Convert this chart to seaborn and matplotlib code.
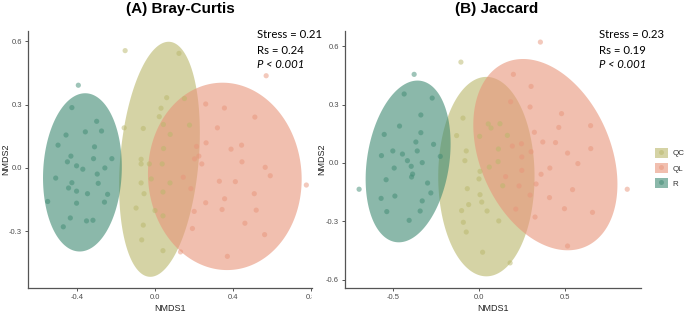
import numpy as np
import pandas as pd
import matplotlib
matplotlib.use("Agg")
import matplotlib.pyplot as plt
import seaborn as sns
from matplotlib.patches import Rectangle, Patch
from matplotlib.lines import Line2D
from matplotlib.legend_handler import HandlerTuple

# ---------------- data ----------------
groups = ["QC", "QL", "R"]
palette = {"QC": "#B9B76A", "QL": "#E8957A", "R": "#3E8A72"}

# Panel A: Bray-Curtis
bc_R_x = [-0.393, -0.426, -0.456, -0.497, -0.357, -0.299, -0.274, -0.310, -0.431, -0.449,
          -0.402, -0.370, -0.315, -0.257, -0.221, -0.296, -0.509, -0.426, -0.291, -0.443,
          -0.402, -0.346, -0.243, -0.550, -0.402, -0.259, -0.434, -0.351, -0.318, -0.470]
bc_R_y = [0.392, 0.286, 0.156, 0.108, 0.171, 0.221, 0.175, 0.100, 0.056, 0.029,
          0.010, -0.006, 0.044, 0.000, 0.044, -0.029, -0.048, -0.070, -0.073, -0.095,
          -0.110, -0.122, -0.125, -0.159, -0.167, -0.162, -0.237, -0.251, -0.248, -0.279]
bc_QC_x = [-0.153, 0.123, 0.060, 0.151, 0.031, 0.022, 0.043, -0.158, -0.060, 0.078,
           0.044, -0.071, -0.071, -0.029, 0.037, -0.071, -0.019, -0.056, 0.041, 0.077,
           -0.097, 0.000, 0.041, -0.060, -0.068, 0.041, 0.177]
bc_QC_y = [0.556, 0.543, 0.333, 0.329, 0.283, 0.243, 0.206, 0.190, 0.187, 0.159,
           0.092, 0.041, 0.019, 0.019, 0.019, -0.071, -0.052, -0.122, -0.114, -0.071,
           -0.190, -0.202, -0.227, -0.271, -0.341, -0.392, 0.203]
bc_QL_x = [0.570, 0.260, 0.356, 0.512, 0.320, 0.262, 0.444, 0.390, 0.213, 0.225,
           0.203, 0.240, 0.446, 0.565, 0.591, 0.776, 0.330, 0.412, 0.145, 0.184,
           0.509, 0.357, 0.260, 0.519, 0.344, 0.201, 0.461, 0.192, 0.562, 0.371, 0.131]
bc_QL_y = [0.437, 0.303, 0.284, 0.241, 0.190, 0.119, 0.108, 0.089, 0.102, 0.056,
           0.043, 0.019, 0.029, 0.003, -0.037, -0.081, -0.063, -0.065, -0.044, -0.098,
           -0.122, -0.146, -0.165, -0.200, -0.197, -0.206, -0.262, -0.287, -0.316, -0.419, -0.398]

# Panel B: Jaccard
ja_R_x = [-0.377, -0.435, -0.272, -0.338, -0.462, -0.551, -0.338, -0.367, -0.264, -0.359,
          -0.501, -0.445, -0.567, -0.225, -0.416, -0.330, -0.394, -0.493, -0.386, -0.392,
          -0.540, -0.299, -0.697, -0.280, -0.489, -0.569, -0.330, -0.536, -0.342, -0.406]
ja_R_y = [0.456, 0.355, 0.334, 0.247, 0.190, 0.147, 0.156, 0.108, 0.096, 0.062,
          0.062, 0.046, 0.038, 0.034, 0.012, 0.002, -0.017, -0.026, -0.057, -0.072,
          -0.086, -0.103, -0.135, -0.154, -0.170, -0.182, -0.195, -0.250, -0.247, -0.295]
ja_QC_x = [-0.105, -0.093, -0.130, 0.054, 0.070, 0.004, -0.074, -0.082, 0.113, 0.111,
           0.060, 0.006, 0.000, -0.068, 0.006, 0.016, -0.060, -0.101, 0.047, -0.091,
           -0.074, 0.115, 0.021, 0.181, 0.122, 0.165, 0.138]
ja_QC_y = [0.519, 0.231, 0.141, 0.201, 0.180, 0.137, 0.062, 0.012, 0.072, 0.007,
           -0.021, -0.043, -0.082, -0.132, -0.163, -0.201, -0.214, -0.245, -0.247, -0.305,
           -0.355, -0.298, -0.459, -0.514, 0.202, 0.142, -0.117]
ja_QL_x = [0.357, 0.200, 0.303, 0.184, 0.297, 0.480, 0.464, 0.649, 0.322, 0.371,
           0.445, 0.194, 0.247, 0.303, 0.249, 0.515, 0.575, 0.650, 0.412, 0.361,
           0.249, 0.155, 0.233, 0.332, 0.544, 0.862, 0.297, 0.410, 0.214, 0.326,
           0.497, 0.660, 0.515]
ja_QL_y = [0.622, 0.456, 0.394, 0.315, 0.288, 0.254, 0.183, 0.192, 0.158, 0.108,
           0.105, 0.087, 0.099, 0.058, 0.031, 0.051, -0.003, 0.074, -0.026, -0.058,
           -0.038, -0.070, -0.118, -0.108, -0.137, -0.135, -0.165, -0.178, -0.237, -0.278,
           -0.235, -0.254, -0.427]

# Ellipse summaries (center x, center y, half-width, half-height, correlation) per group
bc_ell_cx = [0.023, 0.358, -0.372]
bc_ell_cy = [0.041, -0.040, -0.021]
bc_ell_hw = [0.207, 0.394, 0.202]
bc_ell_hh = [0.557, 0.444, 0.375]
bc_ell_r = [0.227, -0.03, 0.07]

ja_ell_cx = [0.043, 0.386, -0.412]
ja_ell_cy = [-0.070, 0.043, 0.008]
ja_ell_hw = [0.280, 0.419, 0.247]
ja_ell_hh = [0.513, 0.492, 0.416]
ja_ell_r = [0.0, -0.31, 0.22]

titles = ["(A) Bray-Curtis", "(B) Jaccard"]
stats_A = ["Stress = 0.21", "Rs = 0.24", "P < 0.001"]
stats_B = ["Stress = 0.23", "Rs = 0.19", "P < 0.001"]
xticks_A = [-0.4, 0.0, 0.4, 0.8]
yticks_A = [-0.3, 0.0, 0.3, 0.6]
xticks_B = [-0.5, 0.0, 0.5]
yticks_B = [-0.6, -0.3, 0.0, 0.3, 0.6]


def make_df(d):
    rows = []
    for g in groups:
        xs, ys = d[g]
        for x, y in zip(xs, ys):
            rows.append({"NMDS1": x, "NMDS2": y, "group": g})
    return pd.DataFrame(rows)


dfA = make_df({"QC": (bc_QC_x, bc_QC_y), "QL": (bc_QL_x, bc_QL_y), "R": (bc_R_x, bc_R_y)})
dfB = make_df({"QC": (ja_QC_x, ja_QC_y), "QL": (ja_QL_x, ja_QL_y), "R": (ja_R_x, ja_R_y)})

# ---------------- style ----------------
sns.set_theme(style="white")
plt.rcParams['font.family'] = ['Liberation Sans', 'DejaVu Sans']

W, H = 685, 315
fig = plt.figure(figsize=(W / 100, H / 100), dpi=100)
axA = fig.add_axes([28 / W, (H - 288) / H, 284 / W, 257 / H])
axB = fig.add_axes([345 / W, (H - 288) / H, 296 / W, 257 / H])

axis_col = "#555555"
tick_col = "#555555"


def draw_ellipses(ax, cxs, cys, hws, hhs, rs):
    t = np.linspace(0, 2 * np.pi, 300)
    for i, g in enumerate(groups):
        M = np.array([[hws[i] ** 2, rs[i] * hws[i] * hhs[i]],
                      [rs[i] * hws[i] * hhs[i], hhs[i] ** 2]])
        L = np.linalg.cholesky(M)
        pts = L @ np.vstack([np.cos(t), np.sin(t)])
        ax.fill(cxs[i] + pts[0], cys[i] + pts[1], color=palette[g], alpha=0.6,
                lw=0, zorder=1 + i)


def style_ax(ax, xlim, ylim, xticks, yticks, ylab_right_px, ax_left_px, ax_w_px):
    ax.set_xlim(*xlim)
    ax.set_ylim(*ylim)
    ax.set_xticks(xticks)
    ax.set_yticks(yticks)
    ax.set_xticklabels([f"{v:.1f}" for v in xticks])
    ax.set_yticklabels([f"{v:.1f}" for v in yticks])
    for s in ["top", "right"]:
        ax.spines[s].set_visible(False)
    for s in ["left", "bottom"]:
        ax.spines[s].set_color(axis_col)
        ax.spines[s].set_linewidth(0.9)
    ax.tick_params(bottom=True, left=True, direction="out", length=2.5, width=0.7,
                   color=tick_col, labelsize=5.5, labelcolor="#4d4d4d", pad=2)
    ax.set_xlabel("NMDS1", fontsize=6.5, color="#222222", labelpad=2)
    ax.set_ylabel("NMDS2", fontsize=6.5, color="#222222")
    ax.yaxis.set_label_coords((ylab_right_px - ax_left_px) / ax_w_px, 0.5)
    ax.set_facecolor("white")


draw_ellipses(axA, bc_ell_cx, bc_ell_cy, bc_ell_hw, bc_ell_hh, bc_ell_r)
draw_ellipses(axB, ja_ell_cx, ja_ell_cy, ja_ell_hw, ja_ell_hh, ja_ell_r)

for ax, df in [(axA, dfA), (axB, dfB)]:
    sns.scatterplot(data=df, x="NMDS1", y="NMDS2", hue="group", hue_order=groups,
                    palette=palette, alpha=0.5, s=14, edgecolor="none",
                    legend=False, ax=ax, zorder=5)

style_ax(axA, (-0.651, 0.805), (-0.569, 0.649), xticks_A, yticks_A, 10, 28, 284)
style_ax(axB, (-0.779, 0.942), (-0.643, 0.679), xticks_B, yticks_B, 326, 345, 296)

# titles
fig.text(180 / W, 1 - 13.5 / H, titles[0], ha="center", va="baseline",
         fontsize=11, fontweight="bold", color="black")
fig.text(497 / W, 1 - 13.5 / H, titles[1], ha="center", va="baseline",
         fontsize=11, fontweight="bold", color="black")

# stats text
for x0, lines in [(257, stats_A), (599, stats_B)]:
    for k, line in enumerate(lines):
        fig.text(x0 / W, 1 - (38.5 + 15 * k) / H, line, ha="left", va="baseline",
                 fontsize=8.2, family=["Lato", "DejaVu Sans"], color="black",
                 style="italic" if k == 2 else "normal")

# mask the clipped 0.8 tick label of panel A
fig.add_artist(Rectangle((312 / W, (H - 305) / H), 14 / W, 14 / H,
                         transform=fig.transFigure, facecolor="white",
                         edgecolor="none", zorder=10))

# legend
handles = [(Patch(facecolor=palette[g], alpha=0.6, edgecolor="none"),
            Line2D([], [], marker="o", ls="", color=palette[g], alpha=0.5,
                   markersize=3.6, markeredgewidth=0)) for g in groups]
fig.legend(handles, groups, handler_map={tuple: HandlerTuple(ndivide=1)},
           loc="center left", bbox_to_anchor=(655 / W, 1 - 168 / H),
           frameon=False, fontsize=5.8, handlelength=1.6, handleheight=1.6,
           labelspacing=0.6, handletextpad=0.6, borderpad=0, borderaxespad=0,
           labelcolor="#333333")

fig.savefig("out.png", dpi=100)
